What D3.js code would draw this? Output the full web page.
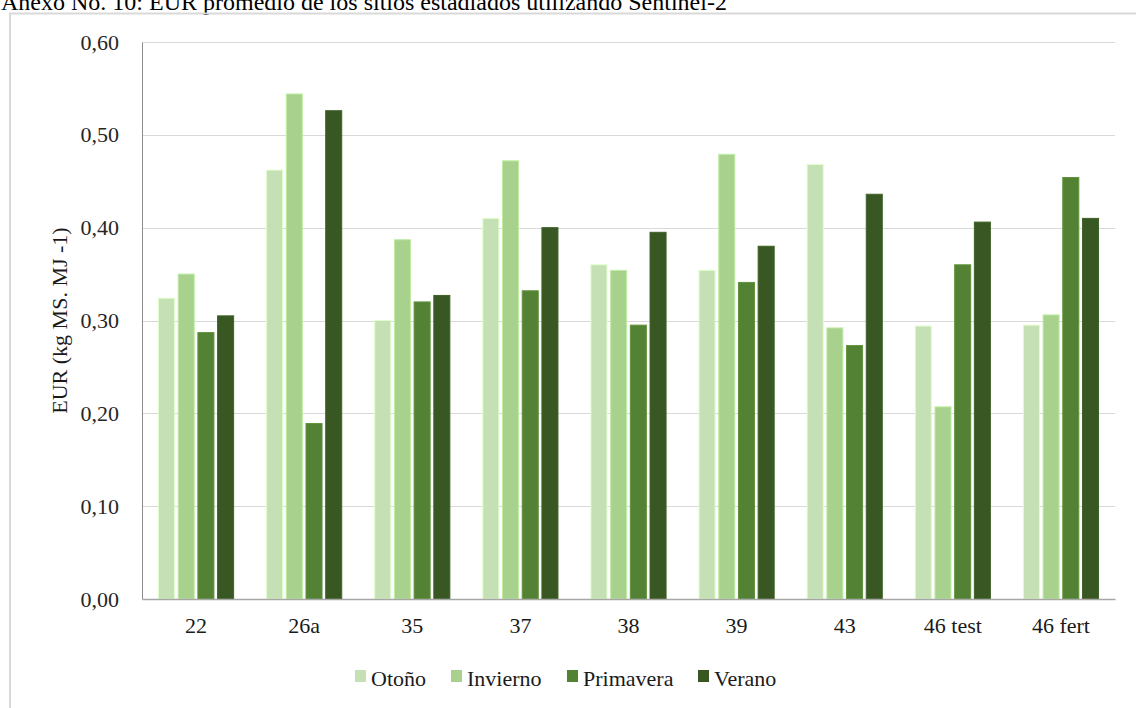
<!DOCTYPE html>
<html>
<head>
<meta charset="utf-8">
<script src="https://cdn.jsdelivr.net/npm/d3@7"></script>
<style>
  html, body { margin: 0; padding: 0; background: #fff; overflow: hidden; }
  svg { display: block; }
  svg text { font-family: "Liberation Serif", "Times New Roman", serif; }
</style>
</head>
<body>
<svg id="chart" width="1136" height="708"></svg>
<script>
// Sites
const categories = ["22", "26a", "35", "37", "38", "39", "43", "46 test", "46 fert"];
// Seasons
const seasons = ["Otoño", "Invierno", "Primavera", "Verano"];
// EUR per season, one value per site
const otono     = [0.324, 0.462, 0.300, 0.410, 0.360, 0.354, 0.468, 0.294, 0.295];
const invierno  = [0.350, 0.544, 0.387, 0.472, 0.354, 0.479, 0.292, 0.207, 0.306];
const primavera = [0.287, 0.189, 0.320, 0.332, 0.295, 0.341, 0.273, 0.360, 0.454];
const verano    = [0.305, 0.526, 0.327, 0.400, 0.395, 0.380, 0.436, 0.406, 0.410];
const yTicks = [0, 0.1, 0.2, 0.3, 0.4, 0.5, 0.6];
const seasonColors = ["#C5E0B4", "#A9D18E", "#548235", "#385723"];

const seriesValues = [otono, invierno, primavera, verano];
const rows = categories.map((c, i) => ({
  site: c,
  values: seasons.map((s, j) => ({ season: s, value: seriesValues[j][i] }))
}));

const FONT = "Liberation Serif, Times New Roman, serif";
const svg = d3.select("#chart");
const plot = { left: 142, right: 1115, top: 42, bottom: 599 };

// Caption line above the chart frame
svg.append("text")
  .attr("x", 1).attr("y", 10)
  .attr("font-family", FONT)
  .attr("font-size", 24).attr("fill", "#000")
  .text("Anexo No. 10: EUR promedio de los sitios estadiados utilizando Sentinel-2");

// Chart frame
svg.append("rect")
  .attr("x", 10).attr("y", 13.5)
  .attr("width", 1200).attr("height", 800)
  .attr("fill", "none").attr("stroke", "#d9d9d9").attr("stroke-width", 2);

const x0 = d3.scaleBand().domain(categories)
  .range([plot.left, plot.right]).paddingInner(0.305).paddingOuter(0.1525);
const x1 = d3.scaleBand().domain(seasons)
  .range([0, x0.bandwidth()]).paddingInner(0.186);
const y = d3.scaleLinear().domain([0, 0.6]).range([plot.bottom, plot.top]);
const color = d3.scaleOrdinal().domain(seasons).range(seasonColors);

// Horizontal gridlines
svg.append("g")
  .selectAll("line").data(yTicks.filter(t => t > 0)).join("line")
  .attr("x1", plot.left).attr("x2", plot.right)
  .attr("y1", d => Math.round(y(d)) + 0.5).attr("y2", d => Math.round(y(d)) + 0.5)
  .attr("stroke", "#d9d9d9").attr("stroke-width", 1);

// Y axis
const yAxis = d3.axisLeft(y).tickValues(yTicks)
  .tickFormat(d => d3.format(".2f")(d).replace(".", ","))
  .tickSize(0).tickPadding(23);
const gy = svg.append("g").attr("transform", `translate(${plot.left},0)`).call(yAxis);
gy.attr("font-family", FONT);
gy.select(".domain").attr("stroke", "#8c8c8c").attr("stroke-width", 1);
gy.selectAll("text").attr("font-size", 22).attr("fill", "#262626");

// Bars
const groups = svg.append("g").selectAll("g").data(rows).join("g")
  .attr("transform", d => `translate(${x0(d.site)},0)`);
groups.selectAll("rect").data(d => d.values).join("rect")
  .attr("x", d => x1(d.season))
  .attr("y", d => y(d.value))
  .attr("width", x1.bandwidth())
  .attr("height", d => y(0) - y(d.value))
  .attr("fill", d => color(d.season))
  .attr("stroke", d => d3.color(color(d.season)).brighter(0.35))
  .attr("stroke-width", 1);

// X axis
const xAxis = d3.axisBottom(x0).tickSize(0).tickPadding(18);
const gx = svg.append("g").attr("transform", `translate(0,${plot.bottom})`).call(xAxis);
gx.attr("font-family", FONT);
gx.select(".domain").attr("stroke", "#a6a6a6").attr("stroke-width", 1.5);
gx.selectAll("text").attr("font-size", 22).attr("fill", "#1a1a1a");

// Y axis title
svg.append("text")
  .attr("transform", `translate(67,${(plot.top + plot.bottom) / 2}) rotate(-90)`)
  .attr("text-anchor", "middle")
  .attr("font-family", FONT)
  .attr("font-size", 22).attr("fill", "#1a1a1a")
  .text("EUR (kg MS. MJ -1)");

// Legend
const legendX = [355, 451, 567, 698];
const legend = svg.append("g").selectAll("g").data(seasons).join("g")
  .attr("transform", (d, i) => `translate(${legendX[i]},670)`);
legend.append("rect")
  .attr("width", 11).attr("height", 12)
  .attr("fill", d => color(d));
legend.append("text")
  .attr("x", 16).attr("y", 16)
  .attr("font-family", FONT)
  .attr("font-size", 22).attr("fill", "#1a1a1a")
  .text(d => d);
</script>
</body>
</html>
